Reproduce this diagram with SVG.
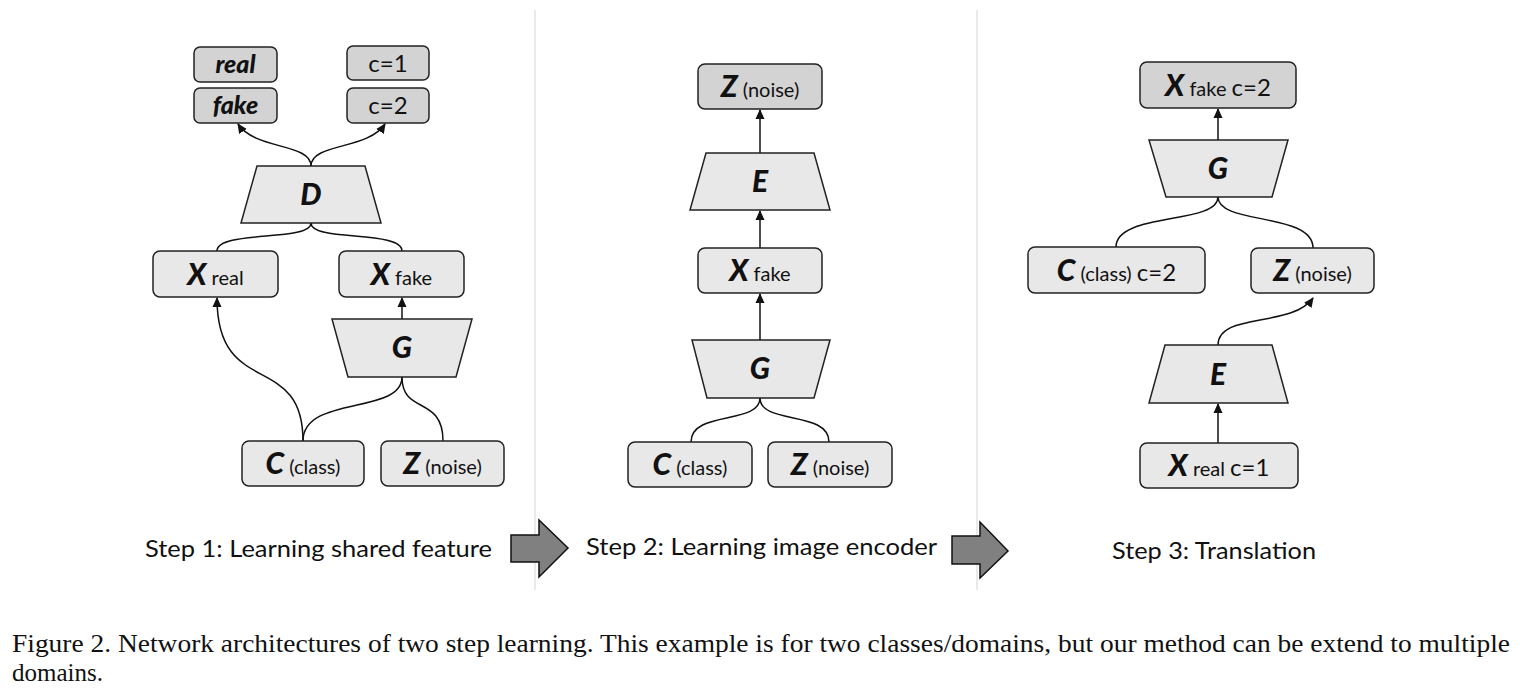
<svg xmlns="http://www.w3.org/2000/svg" width="1520" height="697" viewBox="0 0 1520 697">
<defs>
<marker id="ah" viewBox="0 0 10 10" refX="9" refY="5" markerWidth="10" markerHeight="10" markerUnits="userSpaceOnUse" orient="auto">
<path d="M0,0.5 L10,5 L0,9.5 z" fill="#111"/>
</marker>
<style>
.box{fill:#e8e8e8;stroke:#222;stroke-width:1.5}
.out{fill:#d3d3d3;stroke:#222;stroke-width:1.5}
.trap{fill:#e8e8e8;stroke:#222;stroke-width:1.5}
.con{fill:none;stroke:#111;stroke-width:1.5}
.arr{marker-end:url(#ah)}
.lbl{font-family:Lato,"Liberation Sans",sans-serif;fill:#111}
.t{text-anchor:middle}
.big{font-weight:900;font-style:italic;font-size:30px}
.sm{font-size:20px}
.md{font-size:24px}
.bi{font-weight:900;font-style:italic;font-size:25px}
.step{font-size:23px}
.cap{font-family:"Liberation Serif",Tinos,"Times New Roman",serif;font-size:25px;fill:#111}
.sep{stroke:#e9e9e9;stroke-width:2}
.bigarrow{fill:#808080;stroke:#111;stroke-width:1.5}
</style>
</defs>
<rect width="1520" height="697" fill="#fff"/>
<g id="separators">
<line class="sep" x1="535" y1="10" x2="535" y2="590"/>
<line class="sep" x1="977" y1="10" x2="977" y2="590"/>
</g>
<g id="connectors">
<path class="con arr" d="M311,166 C311,143 255,150 238,124"/>
<path class="con arr" d="M311,166 C311,143 368,150 385,124"/>
<path class="con" d="M311,223 C311,242 217,230 217,251"/>
<path class="con" d="M311,223 C311,242 402,230 402,251"/>
<path class="con arr" d="M402,319 L402,298"/>
<path class="con arr" d="M303,441 C303,350 217,400 217,298"/>
<path class="con" d="M303,441 C303,395 402,415 402,377"/>
<path class="con" d="M443,441 C443,395 402,415 402,377"/>
<path class="con arr" d="M760,153 L760,110"/>
<path class="con arr" d="M760,248 L760,211"/>
<path class="con arr" d="M760,340 L760,294"/>
<path class="con" d="M760,398 C760,425 691,410 691,442"/>
<path class="con" d="M760,398 C760,425 829,410 829,442"/>
<path class="con arr" d="M1218,140 L1218,109"/>
<path class="con" d="M1218,197 C1218,225 1116,212 1116,247"/>
<path class="con" d="M1218,197 C1218,225 1313,212 1313,248"/>
<path class="con arr" d="M1218,345 C1218,312 1292,328 1313,298"/>
<path class="con arr" d="M1218,443 L1218,404"/>
</g>
<g class="lbl">
<g id="s1-real"><rect class="out" x="194" y="47" width="83" height="35" rx="6"/><text class="t bi" x="235.5" y="73">real</text></g>
<g id="s1-fake"><rect class="out" x="194" y="88" width="83" height="35" rx="6"/><text class="t bi" x="235.5" y="114">fake</text></g>
<g id="s1-c1"><rect class="out" x="347" y="46" width="82" height="34" rx="6"/><text class="t md" x="388" y="72">c=1</text></g>
<g id="s1-c2"><rect class="out" x="347" y="88" width="82" height="35" rx="6"/><text class="t md" x="388" y="114">c=2</text></g>
<g id="s1-D"><polygon class="trap" points="257,166 365,166 381,223 241,223"/><text class="t big" x="311" y="205">D</text></g>
<g id="s1-xreal"><rect class="box" x="153" y="251" width="125" height="46" rx="7"/><text class="t" x="215.5" y="285"><tspan class="big">X</tspan><tspan class="sm"> real</tspan></text></g>
<g id="s1-xfake"><rect class="box" x="339" y="251" width="125" height="46" rx="7"/><text class="t" x="401.5" y="285"><tspan class="big">X</tspan><tspan class="sm"> fake</tspan></text></g>
<g id="s1-G"><polygon class="trap" points="332,319 472,319 456,377 348,377"/><text class="t big" x="402" y="358">G</text></g>
<g id="s1-C"><rect class="box" x="242" y="441" width="122" height="45" rx="7"/><text class="t" x="303" y="474"><tspan class="big">C</tspan><tspan class="sm"> (class)</tspan></text></g>
<g id="s1-Z"><rect class="box" x="381" y="441" width="123" height="45" rx="7"/><text class="t" x="442.5" y="474"><tspan class="big">Z</tspan><tspan class="sm"> (noise)</tspan></text></g>

<g id="s2-Zout"><rect class="out" x="698" y="64" width="124" height="45" rx="7"/><text class="t" x="760" y="97"><tspan class="big">Z</tspan><tspan class="sm"> (noise)</tspan></text></g>
<g id="s2-E"><polygon class="trap" points="706,153 814,153 830,210 690,210"/><text class="t big" x="760" y="192">E</text></g>
<g id="s2-xfake"><rect class="box" x="698" y="248" width="124" height="45" rx="7"/><text class="t" x="760" y="281"><tspan class="big">X</tspan><tspan class="sm"> fake</tspan></text></g>
<g id="s2-G"><polygon class="trap" points="692,340 830,340 814,398 707,398"/><text class="t big" x="760" y="379">G</text></g>
<g id="s2-C"><rect class="box" x="628" y="442" width="124" height="45" rx="7"/><text class="t" x="690" y="475"><tspan class="big">C</tspan><tspan class="sm"> (class)</tspan></text></g>
<g id="s2-Z"><rect class="box" x="768" y="442" width="124" height="45" rx="7"/><text class="t" x="830" y="475"><tspan class="big">Z</tspan><tspan class="sm"> (noise)</tspan></text></g>

<g id="s3-xfake"><rect class="out" x="1140" y="62" width="156" height="46" rx="7"/><text class="t" x="1218" y="96"><tspan class="big">X</tspan><tspan class="sm"> fake </tspan><tspan class="md">c=2</tspan></text></g>
<g id="s3-G"><polygon class="trap" points="1149,140 1288,140 1272,197 1166,197"/><text class="t big" x="1218" y="179">G</text></g>
<g id="s3-C"><rect class="box" x="1028" y="247" width="177" height="46" rx="7"/><text class="t" x="1116.5" y="281"><tspan class="big">C</tspan><tspan class="sm"> (class) </tspan><tspan class="md">c=2</tspan></text></g>
<g id="s3-Z"><rect class="box" x="1251" y="248" width="123" height="45" rx="7"/><text class="t" x="1312.5" y="281"><tspan class="big">Z</tspan><tspan class="sm"> (noise)</tspan></text></g>
<g id="s3-E"><polygon class="trap" points="1165,345 1272,345 1288,403 1149,403"/><text class="t big" x="1218" y="385">E</text></g>
<g id="s3-xreal"><rect class="box" x="1140" y="443" width="158" height="45" rx="7"/><text class="t" x="1219" y="476"><tspan class="big">X</tspan><tspan class="sm"> real </tspan><tspan class="md">c=1</tspan></text></g>

<g id="steps">
<text class="step" x="145" y="557" textLength="347" lengthAdjust="spacingAndGlyphs">Step 1: Learning shared feature</text>
<text class="step" x="586" y="555" textLength="351" lengthAdjust="spacingAndGlyphs">Step 2: Learning image encoder</text>
<text class="step" x="1112" y="559" textLength="204" lengthAdjust="spacingAndGlyphs">Step 3: Translation</text>
</g>
</g>
<g id="step-arrows">
<polygon class="bigarrow" points="511,535 539,535 539,520 568,548 539,577 539,562 511,562"/>
<polygon class="bigarrow" points="952,536 980,536 980,522 1008,551 980,578 980,564 952,564"/>
</g>
<g id="caption">
<text class="cap" x="12" y="652" textLength="1498" lengthAdjust="spacingAndGlyphs">Figure 2. Network architectures of two step learning.  This example is for two classes/domains, but our method can be extend to multiple</text>
<text class="cap" x="12" y="681">domains.</text>
</g>
</svg>
